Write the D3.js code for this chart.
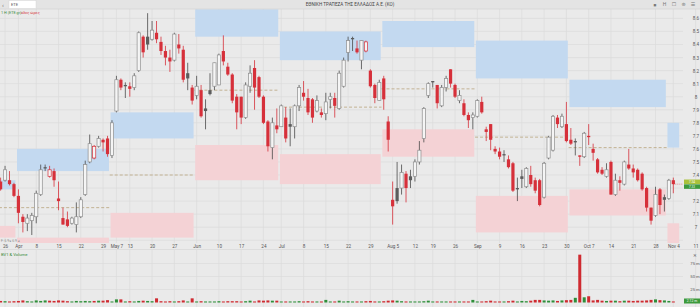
<!DOCTYPE html>
<html>
<head>
<meta charset="utf-8">
<script src="https://cdn.jsdelivr.net/npm/d3@7"></script>
<style>
html, body { margin: 0; padding: 0; background: #e9e9e9; overflow: hidden; }
svg { display: block; font-family: Roboto, "DejaVu Sans", sans-serif; }
</style>
</head>
<body>
<svg id="chart"></svg>
<script>
// daily candles, index 0 = first visible session
const opens = [7.35,7.36,7.36,7.33,7.24,7.08,7.03,7.05,7.08,7.25,7.46,7.39,7.43,7.22,7.07,7.06,7.03,7.02,7.08,7.25,
    7.50,7.53,7.62,7.67,7.68,7.55,7.89,8.13,8.09,8.08,8.07,8.20,8.46,8.46,8.44,8.49,8.42,8.35,8.30,8.28,
    8.40,8.36,8.18,8.07,8.01,8.05,7.91,8.05,8.08,8.09,8.35,8.23,8.17,8.00,8.00,7.84,8.08,8.22,8.15,8.00,
    7.81,7.61,7.78,7.77,7.84,7.79,7.77,7.93,8.03,7.99,7.98,7.89,7.88,7.87,7.98,7.99,7.91,8.08,8.34,8.45,
    8.37,8.28,8.35,8.20,8.09,7.97,8.14,7.81,7.21,7.30,7.30,7.41,7.39,7.39,7.50,7.68,8.01,8.12,8.09,7.93,
    8.07,8.21,8.09,7.97,7.95,7.86,7.84,7.85,7.96,7.75,7.79,7.60,7.58,7.56,7.52,7.49,7.30,7.39,7.31,7.40,
    7.36,7.36,7.23,7.53,7.59,7.84,7.77,7.79,7.67,7.66,7.55,7.54,7.70,7.60,7.52,7.44,7.39,7.50,7.25,7.36,
    7.33,7.48,7.45,7.44,7.41,7.30,7.15,7.09,7.29,7.23,7.22,7.36];
const highs = [7.38,7.47,7.43,7.34,7.29,7.10,7.10,7.11,7.28,7.48,7.48,7.47,7.45,7.35,7.15,7.12,7.08,7.19,7.23,7.51,
    7.71,7.63,7.70,7.68,7.70,7.82,8.16,8.14,8.11,8.11,8.18,8.50,8.47,8.64,8.58,8.58,8.46,8.39,8.36,8.49,
    8.48,8.39,8.26,8.09,8.16,8.09,7.98,8.18,8.26,8.33,8.47,8.26,8.18,8.02,8.00,8.11,8.24,8.28,8.16,8.01,
    7.82,7.84,7.91,7.94,7.92,7.91,7.94,8.09,8.12,8.06,7.99,8.01,7.91,8.03,8.03,8.03,8.20,8.30,8.46,8.46,
    8.43,8.43,8.43,8.21,8.10,8.13,8.16,7.85,7.35,7.50,7.48,7.43,7.44,7.52,7.66,7.92,8.11,8.12,8.09,8.09,
    8.16,8.21,8.10,8.05,7.98,7.88,7.88,7.98,8.00,7.77,7.79,7.62,7.61,7.59,7.55,7.50,7.38,7.44,7.46,7.47,
    7.38,7.37,7.50,7.70,7.86,7.86,7.87,7.96,7.76,7.68,7.55,7.73,7.79,7.64,7.53,7.46,7.49,7.51,7.41,7.39,
    7.51,7.60,7.48,7.45,7.42,7.31,7.15,7.31,7.30,7.25,7.37,7.38];
const lows = [7.28,7.35,7.32,7.23,7.03,6.96,6.97,6.94,7.03,7.24,7.43,7.38,7.31,7.13,7.02,7.00,7.02,6.96,7.07,7.24,
    7.49,7.52,7.61,7.58,7.54,7.53,7.88,8.05,7.99,8.00,8.05,8.19,8.30,8.36,8.43,8.41,8.32,8.24,8.19,8.27,
    8.33,8.11,8.05,7.94,7.98,7.84,7.75,8.01,8.05,8.09,8.24,8.16,7.95,7.75,7.79,7.83,8.03,7.90,7.99,7.79,
    7.58,7.52,7.72,7.77,7.65,7.62,7.68,7.89,7.97,7.86,7.80,7.88,7.84,7.82,7.91,7.84,7.90,8.07,8.27,8.35,
    8.33,8.21,8.34,8.07,7.95,7.97,7.90,7.58,7.02,7.18,7.25,7.19,7.30,7.35,7.48,7.65,7.99,8.07,7.91,7.92,
    8.04,8.07,7.99,7.95,7.85,7.76,7.75,7.84,7.87,7.66,7.59,7.56,7.52,7.50,7.45,7.27,7.20,7.30,7.30,7.31,
    7.26,7.16,7.22,7.52,7.58,7.76,7.76,7.65,7.63,7.55,7.47,7.53,7.63,7.51,7.41,7.40,7.38,7.25,7.24,7.28,
    7.32,7.44,7.38,7.35,7.28,7.12,7.02,7.08,7.10,7.12,7.21,7.26];
const closes = [7.29,7.44,7.33,7.24,7.11,7.04,7.07,7.09,7.26,7.44,7.45,7.44,7.36,7.20,7.02,7.01,7.07,7.08,7.21,7.48,
    7.64,7.62,7.68,7.65,7.56,7.80,8.13,8.07,8.08,8.06,8.16,8.49,8.34,8.40,8.51,8.44,8.35,8.30,8.27,8.48,
    8.37,8.13,8.14,7.97,8.08,7.85,7.89,8.02,8.26,8.32,8.27,8.17,7.97,7.88,7.84,8.09,8.18,8.07,8.00,7.80,
    7.62,7.80,7.75,7.93,7.68,7.77,7.93,8.07,8.00,7.88,7.84,7.97,7.86,7.96,8.00,7.93,8.18,8.28,8.43,8.44,
    8.34,8.43,8.42,8.08,7.99,8.11,7.98,7.67,7.16,7.20,7.42,7.30,7.36,7.50,7.59,7.91,8.10,8.11,7.95,8.07,
    8.14,8.10,8.00,8.01,7.86,7.82,7.86,7.97,7.88,7.73,7.67,7.58,7.54,7.55,7.46,7.28,7.29,7.37,7.45,7.33,
    7.28,7.17,7.49,7.69,7.85,7.79,7.85,7.66,7.64,7.65,7.54,7.72,7.69,7.57,7.42,7.41,7.44,7.25,7.36,7.34,
    7.50,7.45,7.42,7.36,7.29,7.15,7.05,7.25,7.17,7.21,7.36,7.33];
// volume, millions of shares
const volumes = [3,2.5,2,2.5,3,4,2.5,2,4,3,4,3.5,3,4,3.5,2.5,2,3,2.5,3,
    2.5,3,3.5,3.5,4.5,2,6,6,2,2.5,2,3,3.5,3,2.5,8,2.5,2,2.5,2,
    2.5,4,2,8,2,2.5,2,2,2,2.5,2,2.5,2.5,2.5,2,2.5,3.5,2,4,3.5,
    4,3.5,3.5,2,2,2,2,2.5,2,2.5,2,2,2,5,2,2,3.5,2,2.5,2,
    2,2,2.5,3,2,2,2.5,3.5,4,3.5,2.5,2,2,2,2,2.5,3.5,2,2,2,
    2,2,2,2,2,2,5,2,2,2.5,3.5,2,2,2,2.5,3.5,2,3,2.5,3.5,
    5,5,4,3.5,4,3,4,4.5,5,9,92,10,12,4,5,3.5,3,3.5,3.5,2.5,
    3.5,3.5,3,3.5,3.5,4,5,6,4.5,4,3,2];

// monthly zones: first session index of each month
const monthStart = [-1, 4, 25, 44, 63, 86, 107, 128, 150];
const monthEnd = [4, 25, 44, 63, 86, 107, 128, 150, 153];
const blueHi = [7.36, 7.60, 7.88, 8.67, 8.50, 8.58, 8.43, 8.13, 7.80];
const blueLo = [7.29, 7.43, 7.68, 8.46, 8.28, 8.38, 8.14, 7.92, 7.61];
const midLine = [7.15, 7.15, 7.40, 8.05, 7.92, 8.06, 7.69, 7.61, null];
const pinkHi = [7.01, 6.92, 7.11, 7.63, 7.56, 7.75, 7.24, 7.29, 7.03];
const pinkLo = [6.92, 6.85, 6.92, 7.36, 7.33, 7.54, 6.96, 7.09, 6.85];

// time axis
const tickIdx = [1,4,8,13,18,23,26,29,34,39,44,49,54,59,63,68,73,78,83,88,93,97,102,107,112,117,122,127,132,137,142,147,151,156];
const tickLabels = ["26","Apr","8","15","22","29","May 7","13","20","27","Jun","10","17","24","Jul","8","15","22","29",
    "Aug 5","12","19","26","Sep","9","16","23","30","Oct 7","14","21","28","Nov 4","11"];
// 7.3 sits under the last-price tags, as in the source
const priceTicks = [8.6,8.5,8.4,8.3,8.2,8.1,8.0,7.9,7.8,7.7,7.6,7.5,7.4,7.2,7.1,7.0];
const priceLabels = ["8.6","8.5","8.4","8.3","8.2","8.1","8","7.9","7.8","7.7","7.6","7.5","7.4","7.2","7.1","7"];
const gridPrices = [8.6,8.5,8.4,8.3,8.2,8.1,8.0,7.9,7.8,7.7,7.6,7.5,7.4,7.3,7.2,7.1,7.0,6.9];
const volTicks = [25, 50, 75];
const volLabels = ["25 m", "50 m", "75 m"];
const lastPrice = 7.33;
const tagLabels = ["7.34", "7.33"];

var svgWidth = 700, svgHeight = 307;
var plotRight = 683, plotTop = 9, plotBottom = 243;
var volTop = 250, volBottom = 307;

var red = "#d6303a", upDark = "#5c5c5c", hollowStroke = "#8e8e8e";

var svg = d3.select('#chart')
    .attr("width", svgWidth)
    .attr("height", svgHeight);

var x = d3.scaleLinear().domain([0, 156]).range([0.6, 695.6]);
var y = d3.scaleLinear().domain([7, 8.6]).range([227.2, 18.4]);
var yVol = d3.scaleLinear().domain([0, 75]).range([302.5, 263.5]);

svg.append("rect").attr("width", svgWidth).attr("height", svgHeight).attr("fill", "#eaeaea");

svg.append("defs").append("clipPath").attr("id", "plotclip")
    .append("rect").attr("x", 0).attr("y", plotTop).attr("width", plotRight).attr("height", plotBottom - plotTop);

//grid
var grid = svg.append("g").attr("stroke", "#dbdbdb").attr("stroke-width", 0.7);
grid.selectAll("line.v")
    .data(tickIdx)
    .enter().append("line")
    .attr("x1", d => x(d)).attr("x2", d => x(d))
    .attr("y1", plotTop).attr("y2", plotBottom);
grid.selectAll("line.vv")
    .data(tickIdx)
    .enter().append("line")
    .attr("x1", d => x(d)).attr("x2", d => x(d))
    .attr("y1", volTop).attr("y2", volBottom);
grid.selectAll("line.h")
    .data(gridPrices)
    .enter().append("line")
    .attr("x1", 0).attr("x2", plotRight)
    .attr("y1", d => y(d)).attr("y2", d => y(d));
grid.selectAll("line.hv")
    .data(volTicks)
    .enter().append("line")
    .attr("x1", 0).attr("x2", plotRight)
    .attr("y1", d => yVol(d)).attr("y2", d => yVol(d));

var g = svg.append("g").attr("clip-path", "url(#plotclip)");

//monthly zones
var zones = g.selectAll("g.zone")
    .data(monthStart.map((s, k) => k))
    .enter().append("g");

zones.append("rect")
    .attr("x", k => x(monthStart[k] - 0.5) + 0.8)
    .attr("width", k => x(monthEnd[k] - 0.5) - x(monthStart[k] - 0.5) - 1.6)
    .attr("y", k => y(blueHi[k]))
    .attr("height", k => y(blueLo[k]) - y(blueHi[k]))
    .attr("fill", "#c3d9f0");

zones.append("rect")
    .attr("x", k => x(monthStart[k] - 0.5) + 0.8)
    .attr("width", k => x(monthEnd[k] - 0.5) - x(monthStart[k] - 0.5) - 1.6)
    .attr("y", k => y(pinkHi[k]))
    .attr("height", k => y(pinkLo[k]) - y(pinkHi[k]))
    .attr("fill", "#f4d2d5");

zones.filter(k => midLine[k] !== null).append("line")
    .attr("x1", k => x(monthStart[k] - 0.5))
    .attr("x2", k => x(monthEnd[k] - 0.5))
    .attr("y1", k => y(midLine[k]))
    .attr("y2", k => y(midLine[k]))
    .attr("stroke", "#b9a57e")
    .attr("stroke-width", 0.8)
    .attr("stroke-dasharray", "3,2");

//candles
var candles = closes.map((c, i) => ({
    i: i, o: opens[i], h: highs[i], l: lows[i], c: c,
    prev: i > 0 ? closes[i - 1] : opens[i]
}));
var colorOf = d => d.c >= d.prev ? upDark : red;

var cg = g.selectAll("g.candle")
    .data(candles)
    .enter().append("g");

cg.append("line")
    .attr("x1", d => x(d.i)).attr("x2", d => x(d.i))
    .attr("y1", d => y(d.h)).attr("y2", d => y(d.l))
    .attr("stroke", d => d.c >= d.prev ? "#4a4a4a" : red)
    .attr("stroke-width", 0.8);

cg.append("rect")
    .attr("x", d => x(d.i) - 1.6)
    .attr("width", 3.2)
    .attr("y", d => y(Math.max(d.o, d.c)))
    .attr("height", d => Math.max(0.8, Math.abs(y(d.o) - y(d.c))))
    .attr("fill", d => d.c > d.o ? "#f5f5f5" : colorOf(d))
    .attr("stroke", d => d.c > d.o ? (d.c >= d.prev ? hollowStroke : red) : "none")
    .attr("stroke-width", 0.7);

//last price line
g.append("line")
    .attr("x1", x(closes.length - 1)).attr("x2", plotRight)
    .attr("y1", y(lastPrice)).attr("y2", y(lastPrice))
    .attr("stroke", red).attr("stroke-width", 0.5).attr("stroke-dasharray", "1,1");

//small indicator readout
svg.append("text").attr("x", 1).attr("y", 242).attr("font-size", 3.3).attr("fill", "#8a8a8a")
    .text("F: 6.9 ▸ 6.9 ◂");

//x axis
var xAxis = svg.append("g")
    .attr("transform", "translate(0," + (plotBottom + 1) + ")")
    .call(d3.axisBottom(x).tickValues(tickIdx).tickFormat((d, i) => tickLabels[i]).tickSize(0).tickPadding(1));
xAxis.select(".domain").remove();
xAxis.selectAll("text").attr("font-size", 4.6).attr("fill", "#555").attr("font-family", "Roboto");

//price axis
var yAxis = svg.append("g")
    .attr("transform", "translate(696,0)")
    .call(d3.axisRight(y).tickValues(priceTicks).tickFormat((d, i) => priceLabels[i]).tickSize(0).tickPadding(0));
yAxis.select(".domain").remove();
yAxis.selectAll("text").attr("font-size", 4.6).attr("fill", "#555").attr("text-anchor", "middle").attr("font-family", "Roboto");

//price tags, stacked
var tagColors = ["#a9c23b", "#3c9a3c"];
var tags = svg.append("g").selectAll("g")
    .data(tagLabels)
    .enter().append("g")
    .attr("transform", (d, i) => "translate(684," + (y(lastPrice) - 4.6 + i * 4.8) + ")");
tags.append("rect").attr("width", 16).attr("height", 4.5).attr("fill", (d, i) => tagColors[i]);
tags.append("text").attr("x", 8).attr("y", 3.3).attr("font-size", 3).attr("fill", "#fff")
    .attr("text-anchor", "middle").text(d => d);

//volume panel
svg.append("line").attr("x1", 0).attr("x2", svgWidth).attr("y1", volTop - 0.5).attr("y2", volTop - 0.5)
    .attr("stroke", "#d3d3d3").attr("stroke-width", 0.6);

svg.append("g").selectAll("rect")
    .data(candles)
    .enter().append("rect")
    .attr("x", d => x(d.i) - 1.5)
    .attr("width", 3)
    .attr("y", d => yVol(volumes[d.i]))
    .attr("height", d => Math.max(1, yVol(0) - yVol(volumes[d.i])))
    .attr("fill", d => d.c >= d.prev ? "#2f8f3a" : "#cf2a30");

var vAxis = svg.append("g")
    .attr("transform", "translate(695,0)")
    .call(d3.axisRight(yVol).tickValues(volTicks).tickFormat((d, i) => volLabels[i]).tickSize(0).tickPadding(0));
vAxis.select(".domain").remove();
vAxis.selectAll("text").attr("font-size", 4.2).attr("fill", "#555").attr("text-anchor", "middle").attr("font-family", "Roboto");

svg.append("text").attr("x", 695).attr("y", 257).attr("font-size", 4.5).attr("fill", "#666").attr("text-anchor", "middle").text("✕");
svg.append("rect").attr("x", 684).attr("y", 298.5).attr("width", 16).attr("height", 5).attr("fill", "#3c9a3c");
svg.append("text").attr("x", 692).attr("y", 302.3).attr("font-size", 3.4).attr("fill", "#fff").attr("text-anchor", "middle").text("2.12 m");
svg.append("text").attr("x", 1).attr("y", 256).attr("font-size", 4.2).attr("fill", "#3a8a3a").text("BV1 & Volume");

//top bar
svg.append("rect").attr("width", svgWidth).attr("height", plotTop).attr("fill", "#e4e4e4");
svg.append("line").attr("x1", 0).attr("x2", svgWidth).attr("y1", plotTop).attr("y2", plotTop).attr("stroke", "#d2d2d2").attr("stroke-width", 0.6);
svg.append("text").attr("x", 2).attr("y", 6.5).attr("font-size", 6).attr("fill", "#666").text("‹");
svg.append("rect").attr("x", 9).attr("y", 0.5).attr("width", 27).attr("height", 8).attr("fill", "#ffffff").attr("stroke", "#d0d0d0").attr("stroke-width", 0.4);
svg.append("text").attr("x", 11).attr("y", 6).attr("font-size", 4).attr("fill", "#555").text("ETE");
svg.append("text").attr("x", 350).attr("y", 6).attr("font-size", 4.6).attr("fill", "#444").attr("text-anchor", "middle")
    .text("ΕΘΝΙΚΗ ΤΡΑΠΕΖΑ ΤΗΣ ΕΛΛΑΔΟΣ Α.Ε. (ΚΟ)");
var icons = ["■", "H", "☐", "⊜", "☰"];
svg.append("g").selectAll("text")
    .data(icons)
    .enter().append("text")
    .attr("x", (d, i) => 655 + i * 9.5)
    .attr("y", 6.3)
    .attr("font-size", d => d === "■" ? 3 : 5)
    .attr("fill", "#777")
    .attr("text-anchor", "middle")
    .text(d => d);

svg.append("text").attr("x", 1).attr("y", 14.2).attr("font-size", 3.8).attr("fill", "#3a8a3a").text("1 Η (ΕΤΕ.gr)");
svg.append("text").attr("x", 21).attr("y", 14.2).attr("font-size", 3.8).attr("fill", "#d6303a").text("όλες ώρες");
</script>
</body>
</html>
